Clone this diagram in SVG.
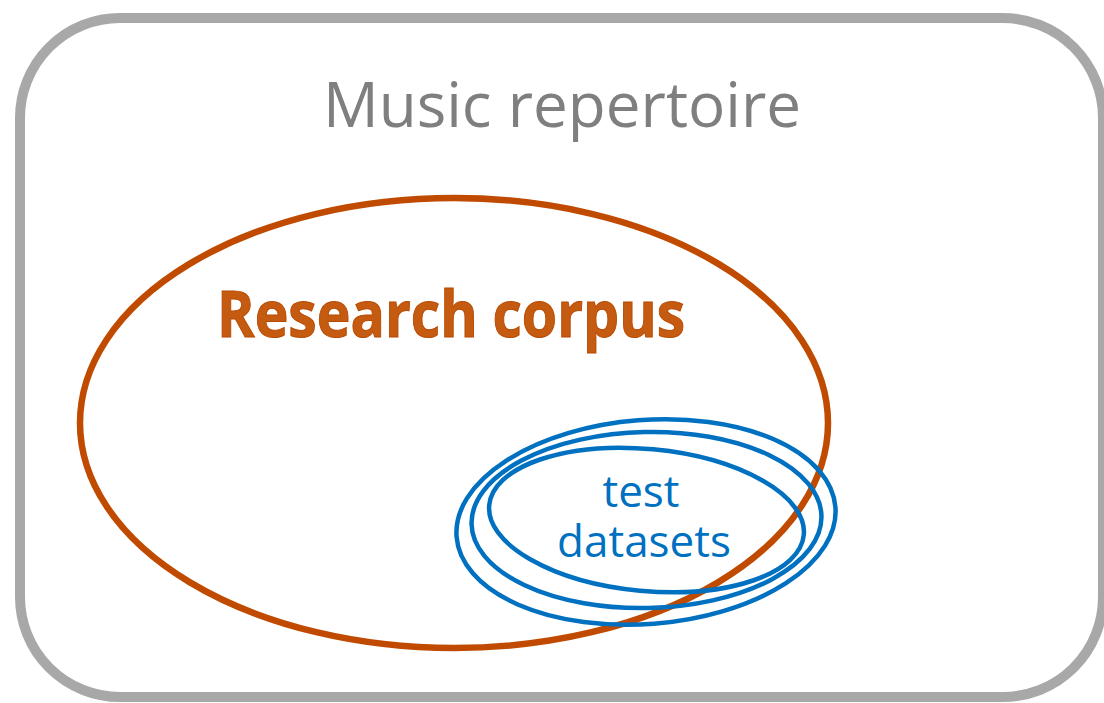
<svg xmlns="http://www.w3.org/2000/svg" width="1104" height="703" viewBox="0 0 1104 703">
<style>
.frame{fill:#fff;stroke:#A9A8A8;stroke-width:10}
.corpus{fill:none;stroke:#C04B00;stroke-width:6.5}
.ds{fill:none;stroke:#0070C0;stroke-width:4.5}
.t1{font-family:"Open Sans","Liberation Sans",sans-serif;font-size:62px;fill:#7F7F7F}
.t2{font-family:"Open Sans","Liberation Sans",sans-serif;font-size:64px;font-weight:bold;fill:#C55A11;stroke:#B84A00;stroke-width:1}
.t3{font-family:"Open Sans","Liberation Sans",sans-serif;font-size:44px;fill:#0070C0}
</style>
<rect width="1104" height="703" fill="#fff"/>
<g id="repertoire">
<rect class="frame" x="20" y="18" width="1083" height="679" rx="100" ry="100"/>
<text class="t1" x="562" y="127" text-anchor="middle">Music repertoire</text>
</g>
<g id="research-corpus">
<ellipse class="corpus" cx="454" cy="423" rx="374" ry="225"/>
<text class="t2" x="451" y="337" text-anchor="middle" textLength="468" lengthAdjust="spacingAndGlyphs">Research corpus</text>
</g>
<g id="test-datasets">
<ellipse class="ds" cx="646" cy="522" rx="190" ry="102" transform="rotate(-4.5 646 522)"/>
<ellipse class="ds" cx="646.5" cy="520" rx="175" ry="88" transform="rotate(-1.3 646.5 520)"/>
<ellipse class="ds" cx="646.5" cy="520" rx="158" ry="71" transform="rotate(5.4 646.5 520)"/>
<text class="t3" x="641" y="507" text-anchor="middle">test</text>
<text class="t3" x="644" y="557" text-anchor="middle">datasets</text>
</g>
<g id="connectors"></g>
</svg>
